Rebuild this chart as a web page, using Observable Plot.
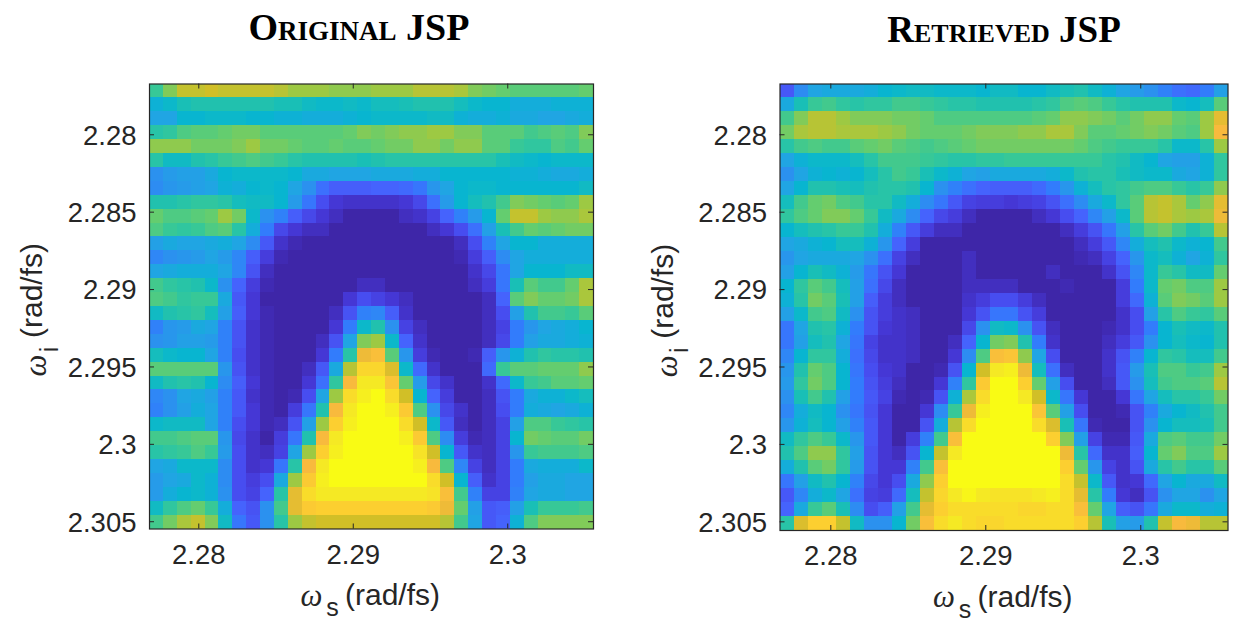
<!DOCTYPE html>
<html>
<head>
<meta charset="utf-8">
<script src="https://cdn.jsdelivr.net/npm/d3@7"></script>
<script src="https://cdn.jsdelivr.net/npm/@observablehq/plot@0.6"></script>
<style>
html,body{margin:0;padding:0;background:#fff;}
#page{position:relative;width:1243px;height:631px;overflow:hidden;}
.ttl{position:absolute;font-family:"Liberation Serif",serif;font-weight:700;font-variant:small-caps;color:#000;white-space:nowrap;transform:translateX(-50%);line-height:1;}
#page svg{position:absolute;top:0;overflow:visible;}
</style>
</head>
<body>
<div id="page"></div>
<script>
// Colour map stops (MATLAB parula), positions on a 0-63 index
const parulaIndex = [0,4,8,12,16,20,24,28,32,36,40,44,48,52,56,60,63];
const parulaColors = ["#3e26a8","#4537d5","#474df0","#4563fd","#327cfc","#2b91ef","#20a5e3","#08b5d0","#19bfb6","#37c897","#64cd6f","#9dc943","#d1bf27","#f8ba3d","#fccf30","#f5e924","#f9fb14"];

const xTicks = [2.28,2.29,2.3];
const yTicks = [2.28,2.285,2.29,2.295,2.3,2.305];

// Values, on the colour map's 0-63 index; row 0 is the top row
const originalJSP = [
[36,42,47,47,48,47,47,47,47,46,44,44,44,43,43,43,44,44,44,46,46,46,45,42,41,40,39,39,39,39,39,40],
[27,29,32,33,33,33,33,33,33,32,32,30,29,29,30,29,31,31,32,33,33,33,31,29,28,28,26,26,26,27,27,27],
[24,24,28,28,29,29,29,28,28,27,27,26,26,26,27,28,29,29,29,29,30,30,27,26,26,27,25,25,24,24,25,26],
[34,35,38,39,39,40,41,41,39,39,39,39,39,39,40,42,41,42,43,43,44,44,42,42,39,39,39,37,38,39,38,42],
[43,43,43,41,41,41,42,44,41,41,40,39,39,40,39,39,40,41,41,43,43,41,43,43,39,39,36,35,35,38,37,40],
[34,30,30,33,34,36,37,38,37,36,34,33,33,33,33,32,33,34,34,34,34,34,34,34,34,32,30,29,28,29,29,29],
[20,22,23,23,25,28,29,29,29,29,28,25,25,24,24,24,25,25,25,26,26,28,28,28,28,28,27,27,26,25,25,26],
[19,21,22,23,24,27,26,28,29,28,24,20,14,11,11,11,12,12,13,15,21,24,28,29,29,28,28,28,28,28,28,30],
[33,33,34,35,35,34,31,30,30,28,22,15,8,4,3,3,3,3,4,7,14,22,28,31,33,37,42,41,40,39,40,44],
[40,38,38,39,40,44,41,29,20,17,11,7,4,2,0,0,0,0,2,3,6,12,17,22,28,40,47,47,44,43,43,45],
[38,36,35,36,38,39,34,26,16,7,4,2,2,0,0,0,0,0,0,0,2,4,8,14,23,32,37,40,39,40,41,41],
[23,25,24,24,25,26,24,19,10,3,1,0,0,0,0,0,0,0,0,0,0,0,2,8,17,24,28,28,26,26,26,26],
[18,20,21,22,24,22,18,11,5,1,0,0,0,0,0,0,0,0,0,0,0,0,1,5,11,19,24,26,26,26,26,26],
[24,25,26,26,26,24,18,9,2,0,0,0,0,0,0,0,0,0,0,0,0,0,0,3,7,15,24,28,28,28,30,30],
[37,35,34,33,29,20,12,5,1,0,0,0,0,0,0,2,2,0,0,0,0,0,0,2,5,15,32,39,37,37,40,45],
[38,37,35,36,36,25,10,4,0,0,0,0,0,0,4,8,6,4,2,0,0,0,0,0,2,12,39,42,40,40,41,45],
[30,33,34,35,31,23,11,4,1,0,0,0,0,2,9,17,18,11,3,0,0,0,0,0,2,8,23,33,37,37,36,39],
[17,21,22,25,24,17,9,3,1,0,0,0,0,4,16,29,33,20,6,2,0,0,0,0,2,6,16,21,24,25,26,28],
[20,21,23,23,22,17,9,3,1,0,0,0,2,9,24,42,44,29,12,3,0,0,0,0,2,7,16,23,25,25,26,27],
[31,29,28,28,24,17,8,3,1,0,0,0,4,16,34,51,53,39,21,5,1,0,0,1,11,21,27,33,35,34,34,33],
[39,39,39,39,39,21,9,3,1,0,0,2,10,25,46,57,57,49,29,13,3,0,0,0,13,36,39,39,40,40,40,43],
[30,33,34,33,28,19,11,4,1,0,0,4,14,35,52,60,60,54,40,22,7,3,0,0,3,13,29,36,37,39,39,40],
[18,20,24,25,23,17,10,3,1,0,1,8,24,44,58,61,63,58,48,28,12,5,0,0,2,9,16,25,27,27,29,31],
[17,20,23,26,24,17,10,4,1,0,5,15,33,52,60,63,63,61,55,38,20,7,3,0,2,8,16,26,25,24,25,27],
[29,30,30,30,24,17,8,4,1,2,9,23,44,56,61,63,63,63,58,48,29,10,2,0,2,6,23,38,38,36,35,34],
[37,37,38,39,39,21,7,3,0,5,15,33,52,60,63,63,63,63,61,55,38,19,5,1,2,6,28,41,40,39,39,41],
[34,35,36,38,36,22,8,3,2,6,24,44,56,61,63,63,63,63,63,59,48,28,10,3,2,6,21,36,37,37,37,38],
[24,25,29,29,29,19,8,3,4,15,34,52,60,63,63,63,63,63,63,61,52,38,18,6,2,6,16,25,26,26,26,29],
[22,24,25,29,27,19,8,5,8,25,44,55,61,63,63,63,63,63,63,63,58,48,28,11,3,6,16,23,25,25,24,24],
[22,26,28,29,27,20,8,6,12,34,50,58,60,60,60,60,60,60,60,60,59,53,37,17,6,6,17,24,25,25,24,24],
[30,35,38,40,36,26,12,9,20,37,50,55,56,56,56,56,56,56,56,56,55,51,40,23,10,11,23,32,36,36,36,37],
[37,41,45,47,42,30,15,10,20,34,44,47,48,48,48,48,48,48,48,48,48,46,37,24,10,12,27,38,42,42,42,42]
];
const retrievedJSP = [
[10,19,24,25,25,25,26,28,29,30,30,29,29,29,28,30,30,28,28,30,32,33,30,27,24,22,20,17,14,13,16,23],
[25,32,36,37,35,34,35,35,37,37,36,35,34,34,33,33,33,33,34,35,38,39,38,36,34,33,33,33,29,28,31,39],
[37,42,46,46,44,42,42,42,41,41,40,38,38,38,38,38,38,38,39,40,43,43,42,41,39,41,43,43,40,39,44,50],
[41,45,46,46,45,45,45,44,43,41,40,40,40,41,42,42,42,43,43,45,45,42,39,39,40,41,42,41,39,38,44,52],
[34,37,38,37,37,39,40,41,39,38,37,38,39,40,41,41,41,41,41,41,41,40,38,37,36,36,36,34,29,29,34,44],
[24,27,29,29,29,31,34,37,37,37,36,35,34,34,35,35,36,36,36,36,36,36,36,34,33,30,28,24,23,23,27,35],
[20,24,27,28,27,28,31,34,37,36,32,29,27,24,23,25,25,25,25,26,29,33,34,34,32,30,29,29,25,24,27,35],
[24,28,33,33,32,31,33,34,34,33,28,20,17,14,12,11,11,11,13,16,21,27,31,34,35,37,38,38,36,34,36,43],
[31,37,40,41,38,37,34,34,30,26,19,15,10,6,5,5,4,5,6,9,14,19,25,29,35,39,46,47,45,40,43,50],
[35,38,40,42,42,40,36,30,25,19,12,7,5,2,0,0,0,0,2,4,8,12,18,23,29,39,46,47,45,44,45,51],
[28,31,33,34,36,36,33,26,17,10,5,2,2,0,0,0,0,0,0,0,2,5,9,15,23,34,39,41,37,33,36,46],
[24,25,27,28,31,31,27,21,12,5,0,0,0,0,0,0,0,0,0,0,0,2,5,10,18,26,31,33,29,27,28,37],
[21,24,25,25,25,24,20,14,6,2,0,0,0,2,0,0,0,0,0,0,0,1,2,6,12,21,29,31,27,24,27,35],
[23,28,32,30,27,22,15,9,4,0,0,0,0,2,0,0,0,0,0,2,0,0,0,3,9,18,29,36,34,30,30,40],
[28,35,39,37,31,23,14,7,2,0,0,0,0,2,2,2,2,0,0,0,1,0,0,0,5,16,29,40,41,38,38,44],
[27,34,41,39,32,23,11,5,2,0,0,0,0,3,5,8,8,5,2,0,0,0,0,0,5,13,27,39,42,41,39,44],
[23,29,37,38,30,20,9,5,3,2,0,0,0,4,9,15,15,9,5,0,0,0,0,0,3,8,23,34,38,36,35,39],
[15,24,33,34,27,16,9,4,3,2,0,0,0,7,20,30,29,20,9,2,0,0,0,1,3,8,16,28,32,30,29,33],
[15,23,31,33,24,15,6,3,3,2,0,0,2,12,28,41,42,33,16,3,0,0,0,2,5,10,20,28,31,29,28,33],
[18,28,35,35,26,14,7,3,3,2,0,0,4,19,38,53,54,43,24,8,0,0,0,3,9,17,28,35,34,31,31,37],
[21,33,40,38,28,15,8,4,3,0,0,1,9,28,48,60,61,51,31,14,2,0,0,3,10,22,32,38,38,36,37,44],
[22,35,41,38,28,16,9,5,2,0,0,4,17,35,55,63,63,56,40,23,8,0,0,2,10,20,31,37,38,38,39,46],
[20,32,37,33,23,16,10,6,1,0,1,9,27,45,58,63,63,60,48,29,15,4,0,0,4,15,24,31,34,34,36,41],
[18,26,30,28,20,15,9,4,0,0,4,19,36,51,61,63,63,63,54,39,23,8,0,0,1,9,17,25,28,30,33,37],
[21,27,31,28,23,17,10,4,0,0,9,26,46,58,63,63,63,63,58,49,32,15,1,0,0,9,20,28,31,31,32,37],
[30,35,38,36,29,21,10,4,0,5,17,37,53,63,63,63,63,63,63,56,42,23,6,1,1,10,25,38,39,37,37,41],
[33,38,43,43,35,23,9,4,2,9,28,47,60,63,63,63,63,63,63,63,51,34,13,3,3,11,28,40,42,38,38,44],
[26,33,39,41,35,22,9,4,4,17,37,53,63,63,63,63,63,63,63,63,56,40,21,6,3,9,25,34,37,34,34,39],
[15,23,30,33,28,17,7,4,8,25,43,56,63,63,63,63,63,63,63,63,58,47,29,10,3,4,13,24,28,25,25,30],
[10,18,26,29,24,14,6,5,13,31,47,57,60,62,60,59,59,59,60,61,58,50,34,16,4,2,9,20,24,24,20,24],
[12,25,36,39,32,19,8,11,23,37,50,56,58,58,58,58,58,57,57,58,58,53,40,24,11,9,15,25,29,29,26,27],
[34,49,56,56,47,30,20,20,28,41,53,58,60,58,57,57,58,58,58,58,58,56,46,32,23,22,33,47,52,51,46,46]
];

const FONT = '"Liberation Sans", Arial, sans-serif';
const INK = "#262626";

function panel({rows, left, width, marginLeft, marginRight, marginBottom, xDomain, yDomain}) {
  const height = 631, nr = rows.length, nc = rows[0].length;
  const dx = (xDomain[1]-xDomain[0])/nc, dy = (yDomain[1]-yDomain[0])/nr;
  const cells = rows.flatMap((row,r)=>row.map((v,c)=>({
    x1:xDomain[0]+c*dx, x2:xDomain[0]+(c+1)*dx,
    y1:yDomain[0]+r*dy, y2:yDomain[0]+(r+1)*dy, v})));
  const innerH = height-83.5-marginBottom, innerW = width-marginLeft-marginRight, tl = 5;
  const tickStyle = {stroke:"#262626",strokeWidth:1};
  const txt = {fontFamily:FONT,fill:INK,fontSize:30,textAnchor:"middle",lineAnchor:"middle"};
  const omega = {...txt,fontFamily:"Liberation Serif",fontStyle:"italic",fontSize:31};
  const svg = Plot.plot({
    width, height, marginLeft, marginRight, marginTop:83.5, marginBottom,
    style:{background:"transparent"},
    x:{domain:xDomain,label:null},
    y:{domain:[yDomain[1],yDomain[0]],label:null},
    color:{type:"linear",domain:parulaIndex,range:parulaColors},
    marks:[
      Plot.rect(cells,{x1:"x1",x2:"x2",y1:"y1",y2:"y2",fill:"v",shapeRendering:"crispEdges"}),
      Plot.tickX(xTicks,{x:d=>d,insetTop:innerH-tl,...tickStyle}),
      Plot.tickX(xTicks,{x:d=>d,insetBottom:innerH-tl,...tickStyle}),
      Plot.tickY(yTicks,{y:d=>d,insetRight:innerW-tl,...tickStyle}),
      Plot.tickY(yTicks,{y:d=>d,insetLeft:innerW-tl,...tickStyle}),
      Plot.frame({stroke:"#262626",strokeWidth:1.2}),
      Plot.axisX(xTicks,{anchor:"bottom",tickSize:0,tickPadding:15,tickFormat:d=>String(d),fontSize:27.5,fontFamily:FONT,color:INK,fill:INK,label:null}),
      Plot.axisY(yTicks,{anchor:"left",tickSize:0,tickPadding:13,dy:1,tickFormat:d=>String(d),fontSize:27.5,fontFamily:FONT,color:INK,fill:INK,label:null}),
      // x axis title
      Plot.text(["ω"],{frameAnchor:"bottom",dx:-60,dy:67,...omega}),
      Plot.text(["s"],{frameAnchor:"bottom",dx:-39,dy:79,...txt,fontSize:25}),
      Plot.text(["(rad/fs)"],{frameAnchor:"bottom",dx:21,dy:66.5,...txt}),
      // y axis title
      Plot.text(["ω"],{frameAnchor:"left",dx:-113,dy:59,rotate:-90,...omega}),
      Plot.text(["i"],{frameAnchor:"left",dx:-100,dy:43,rotate:-90,...txt,fontSize:25}),
      Plot.text(["(rad/fs)"],{frameAnchor:"left",dx:-117,dy:-16,rotate:-90,...txt})
    ]
  });
  svg.style.left = left+"px";
  return svg;
}

const page = document.getElementById("page");
page.append(panel({rows:originalJSP,left:0,width:620,marginLeft:149,marginRight:27,marginBottom:102.5,
  xDomain:[2.27681,2.30555],yDomain:[2.27672,2.30547]}));
page.append(panel({rows:retrievedJSP,left:620,width:623,marginLeft:159.5,marginRight:15.5,marginBottom:101,
  xDomain:[2.27672,2.30563],yDomain:[2.27672,2.30556]}));

function title(text,cx,top,size){
  const d=document.createElement("div");d.className="ttl";d.textContent=text;
  d.style.left=cx+"px";d.style.top=top+"px";d.style.fontSize=size+"px";page.append(d);
}
title("Original JSP",359,8,38);
title("Retrieved JSP",1004,11,37);
</script>
</body>
</html>
